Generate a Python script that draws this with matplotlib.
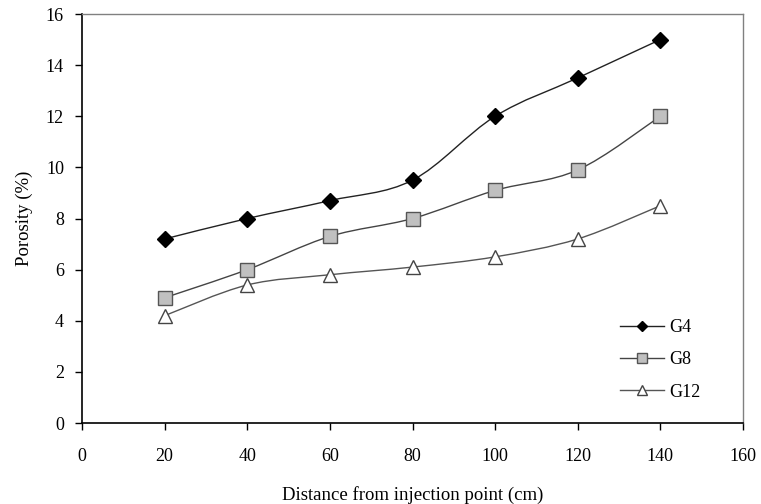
import numpy as np
import matplotlib
matplotlib.use("Agg")
import matplotlib.pyplot as plt
from matplotlib.path import Path
from matplotlib.patches import PathPatch
from matplotlib.lines import Line2D

plt.rcParams["font.family"] = ["Liberation Serif", "DejaVu Serif"]

distance = [20, 40, 60, 80, 100, 120, 140]
g4 = [7.2, 8.0, 8.7, 9.5, 12.0, 13.5, 15.0]
g8 = [4.9, 6.0, 7.3, 8.0, 9.1, 9.9, 12.0]
g12 = [4.2, 5.4, 5.8, 6.1, 6.5, 7.2, 8.5]
labels = ["G4", "G8", "G12"]


def smooth_path(x, y, t=1 / 6):
    # Excel-style smoothed line: cubic Bezier segments through the points
    p = np.column_stack([x, y]).astype(float)
    verts = [p[0]]
    codes = [Path.MOVETO]
    n = len(p)
    for i in range(n - 1):
        p0 = p[i - 1] if i > 0 else p[i]
        p3 = p[i + 2] if i + 2 < n else p[i + 1]
        c1 = p[i] + (p[i + 1] - p0) * t
        c2 = p[i + 1] - (p3 - p[i]) * t
        verts += [c1, c2, p[i + 1]]
        codes += [Path.CURVE4] * 3
    return Path(verts, codes)


fig = plt.figure(figsize=(7.61, 5.04), dpi=100)
ax = fig.add_axes([0.1078, 0.1607, 0.8685, 0.8115])

styles = [
    dict(marker="D", ms=8, mfc="black", mec="black", color="#222222"),
    dict(marker="s", ms=10, mfc="#c0c0c0", mec="#555555", color="#444444"),
    dict(marker="^", ms=10, mfc="white", mec="#444444", color="#555555"),
]

handles = []
for ys, st, lab in zip([g4, g8, g12], styles, labels):
    ax.add_patch(PathPatch(smooth_path(distance, ys), fill=False,
                           edgecolor=st["color"], lw=1.0, zorder=2))
    ax.plot(distance, ys, ls="none", marker=st["marker"], ms=st["ms"],
            mfc=st["mfc"], mec=st["mec"], mew=1.0, zorder=3)
    handles.append(Line2D([], [], color=st["color"], lw=1.0, marker=st["marker"],
                          ms=st["ms"] * 0.7, mfc=st["mfc"], mec=st["mec"]))

ax.set_xlim(0, 160)
ax.set_ylim(0, 16)
ax.set_xticks(range(0, 161, 20))
ax.set_yticks(range(0, 17, 2))
ax.tick_params(direction="out", length=5, width=1, labelsize=13, pad=13)
ax.tick_params(axis="y", pad=8)
for s in ["left", "bottom"]:
    ax.spines[s].set_color("black")
    ax.spines[s].set_linewidth(1.2)
for s in ["top", "right"]:
    ax.spines[s].set_color("#808080")
    ax.spines[s].set_linewidth(1.0)

ax.set_xlabel("Distance from injection point (cm)", fontsize=13.5, labelpad=15)
ax.set_ylabel("Porosity (%)", fontsize=13.5, labelpad=9)

ax.legend(handles, labels, loc="lower right", bbox_to_anchor=(0.96, 0.015),
          frameon=False, fontsize=13, handlelength=2.4, handletextpad=0.3,
          labelspacing=0.85)

fig.savefig("out.png", dpi=100)
